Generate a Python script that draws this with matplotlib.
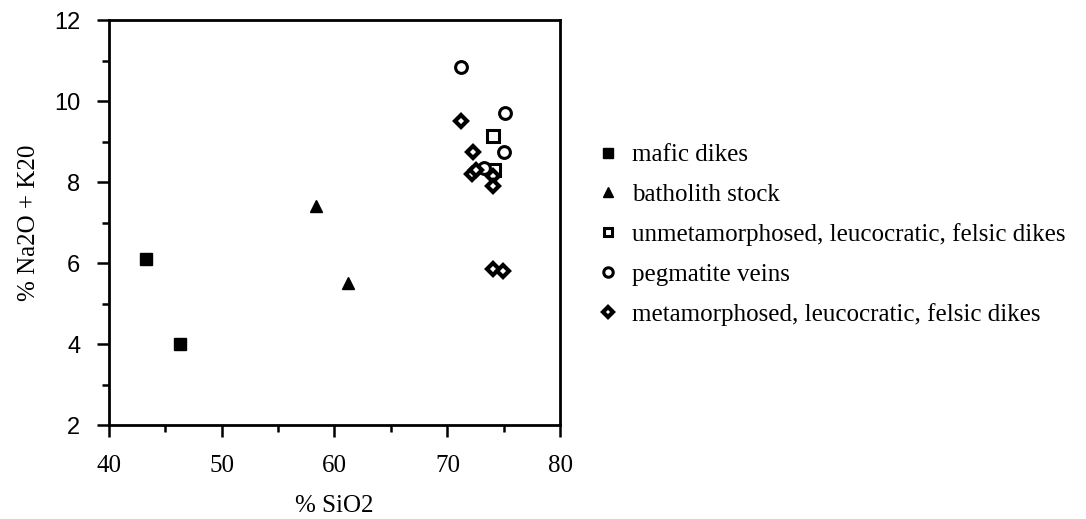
import matplotlib
matplotlib.use("Agg")
from matplotlib import pyplot as plt
from matplotlib.ticker import MultipleLocator

# data
mafic_x = [43.3, 46.3]
mafic_y = [6.1, 4.0]
bath_x = [58.4, 61.2]
bath_y = [7.4, 5.5]
unmeta_x = [74.0, 74.1]
unmeta_y = [9.15, 8.3]
pegm_x = [71.2, 75.1, 75.0, 73.2]
pegm_y = [10.85, 9.7, 8.75, 8.35]
meta_x = [71.2, 72.3, 72.2, 72.5, 74.0, 74.0, 74.0, 74.9]
meta_y = [9.5, 8.75, 8.2, 8.3, 8.15, 7.9, 5.85, 5.8]

labels = ['mafic dikes', 'batholith stock',
          'unmetamorphosed, leucocratic, felsic dikes',
          'pegmatite veins',
          'metamorphosed, leucocratic, felsic dikes']

serif = 'Liberation Serif'
sans = 'Liberation Sans'

fig = plt.figure(figsize=(10.86, 5.19), dpi=100)
ax = fig.add_axes([0.100, 0.181, 0.416, 0.780])

ax.plot(mafic_x, mafic_y, 's', color='black', ms=9, label=labels[0])
ax.plot(bath_x, bath_y, '^', color='black', ms=9, label=labels[1])
ax.plot(unmeta_x, unmeta_y, 's', mfc='white', mec='black', mew=2.2, ms=8, label=labels[2])
ax.plot(pegm_x, pegm_y, 'o', mfc='white', mec='black', mew=2.2, ms=8.5, label=labels[3])
ax.plot(meta_x, meta_y, 'D', mfc='white', mec='black', mew=3, ms=6.5, label=labels[4])

ax.set_xlim(40, 80)
ax.set_ylim(2, 12)
ax.xaxis.set_major_locator(MultipleLocator(10))
ax.xaxis.set_minor_locator(MultipleLocator(5))
ax.yaxis.set_major_locator(MultipleLocator(2))
ax.yaxis.set_minor_locator(MultipleLocator(1))
ax.tick_params(which='major', direction='out', length=8.5, width=1.8, labelsize=17)
ax.tick_params(which='minor', direction='out', length=5, width=1.8)
ax.tick_params(axis='x', pad=13)
ax.tick_params(axis='y', pad=12)
for lab in ax.get_xticklabels():
    lab.set_fontfamily(serif)
    lab.set_fontsize(18)
for lab in ax.get_yticklabels():
    lab.set_fontfamily(sans)
for s in ax.spines.values():
    s.set_linewidth(2)

ax.set_xlabel('% SiO2', family=serif, fontsize=18, labelpad=13)
ax.set_ylabel('% Na2O + K20', family=serif, fontsize=18, labelpad=10)

fig.legend(loc='upper left', bbox_to_anchor=(0.551, 0.723), frameon=False,
           prop={'family': serif, 'size': 18}, markerscale=0.8,
           handlelength=0.8, handletextpad=0.56, labelspacing=0.69,
           borderpad=0, borderaxespad=0, numpoints=1)

fig.savefig('out.png', dpi=100)
